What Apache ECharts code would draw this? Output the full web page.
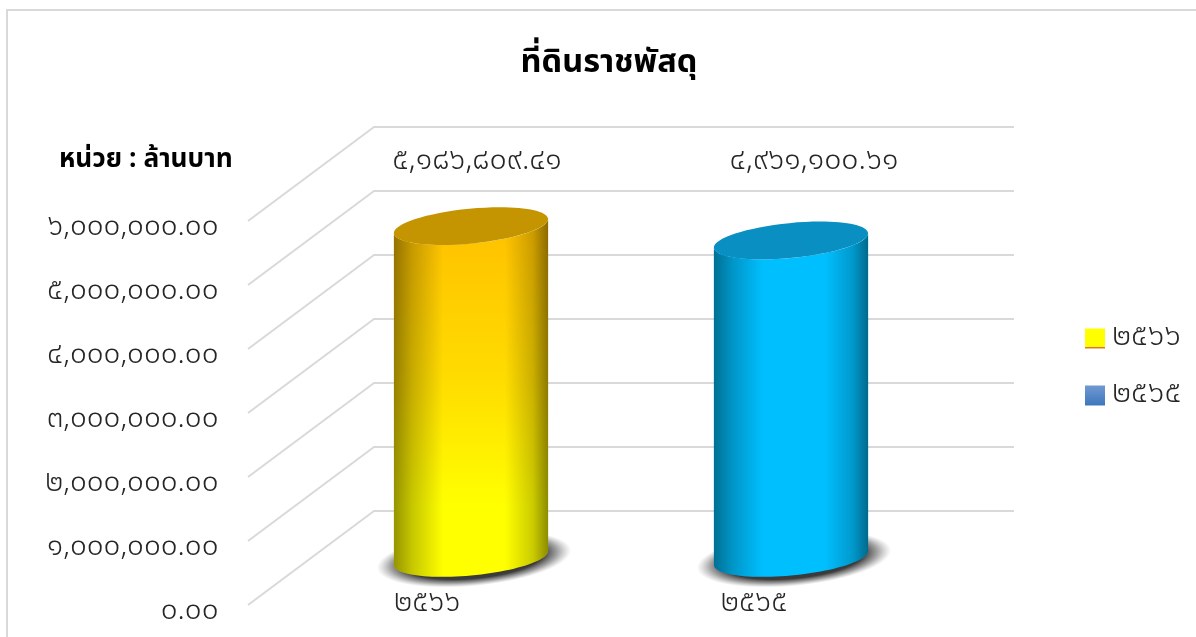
<!DOCTYPE html>
<html>
<head>
<meta charset="utf-8">
<title>ที่ดินราชพัสดุ</title>
<style>html,body{margin:0;padding:0;background:#fff;overflow:hidden}#chart{width:1196px;height:637px}</style>
<script src="https://cdn.jsdelivr.net/npm/echarts@6/dist/echarts.min.js"></script>
</head>
<body>
<div id="chart"></div>
<script>
// Land value by fiscal year (Buddhist era), in the units stated on the chart
const categories = ['๒๕๖๖', '๒๕๖๕'];
const values = [5186809.41, 4961100.61];
const yTicks = [0, 1000000, 2000000, 3000000, 4000000, 5000000, 6000000];

const FONT = '"Noto Sans Thai", "Noto Sans", "Open Sans", "DejaVu Sans", sans-serif';
const DEPTH_X = 63, DEPTH_Y = 47;          // half depth of the drawn floor
const GRID_COLOR = '#d9d9d9';
const INK = '#262626';

const THAI = '๐๑๒๓๔๕๖๗๘๙';
const toThai = s => String(s).replace(/[0-9]/g, d => THAI[+d]);
const money = v => toThai(v.toLocaleString('en-US', {minimumFractionDigits: 2, maximumFractionDigits: 2}));

const palettes = [
  {
    body: [[0, '#FFC000'], [0.45, '#FFDC00'], [0.8, '#FFFF00'], [1, '#FFFF00']],
    cap: '#C49500',
    labelDx: 6
  },
  {
    body: [[0, '#00BFFF'], [1, '#00BFFF']],
    cap: '#0A8FC2',
    labelDx: 23
  }
];

const stops = a => a.map(([offset, color]) => ({offset, color}));

// Outline of the cylinder's side: a tilted ellipse rim swept between the two levels
function sidePath(cx, yTop, yBase, a, b, tilt) {
  const pts = [];
  const rim = (t, cy) => {
    const ex = a * Math.cos(t), ey = b * Math.sin(t);
    return [cx + ex * Math.cos(tilt) - ey * Math.sin(tilt),
            cy + ex * Math.sin(tilt) + ey * Math.cos(tilt)];
  };
  const t0 = Math.atan2(-b * Math.sin(tilt), a * Math.cos(tilt));
  const N = 48;
  for (let i = 0; i <= N; i++) pts.push(rim(t0 + Math.PI * i / N, yBase));
  for (let i = N; i >= 0; i--) pts.push(rim(t0 + Math.PI * i / N, yTop));
  return pts;
}

function renderCylinder(idx) {
  return function (params, api) {
    const cat = api.value(0), val = api.value(1);
    const [cx, yTop] = api.coord([cat, val]);
    const [, yBase] = api.coord([cat, 0]);
    const band = api.size([1, 0])[0];
    const a = band * 0.242, b = a * 0.225;
    const tilt = -5.5 * Math.PI / 180;
    const pal = palettes[idx];
    const points = sidePath(cx, yTop, yBase, a, b, tilt);
    const top = api.coord([cat, yTicks[yTicks.length - 1]])[1];
    const shadowR = b * 1.55;
    return {
      type: 'group',
      children: [
        { // soft floor shadow: a faded disc stretched to an ellipse
          type: 'circle',
          shape: {cx: 0, cy: 0, r: shadowR},
          x: cx + 3, y: yBase + 1, rotation: -tilt,
          scaleX: (a * 1.26) / shadowR, scaleY: 1,
          style: {fill: {type: 'radial', x: 0.5, y: 0.5, r: 0.5, colorStops: [
            {offset: 0, color: 'rgba(45,45,45,1)'},
            {offset: 0.72, color: 'rgba(60,60,60,1)'},
            {offset: 0.86, color: 'rgba(90,90,90,0.55)'},
            {offset: 1, color: 'rgba(130,130,130,0)'}
          ]}}
        },
        {
          type: 'polygon', shape: {points},
          style: {fill: {type: 'linear', x: 0, y: 0, x2: 0, y2: 1, colorStops: stops(pal.body)}}
        },
        { // edge shading across the curved side
          type: 'polygon', shape: {points},
          style: {fill: {type: 'linear', x: 0, y: 0, x2: 1, y2: 0, colorStops: [
            {offset: 0, color: 'rgba(0,0,0,0.42)'},
            {offset: 0.12, color: 'rgba(0,0,0,0.22)'},
            {offset: 0.32, color: 'rgba(0,0,0,0)'},
            {offset: 0.72, color: 'rgba(0,0,0,0)'},
            {offset: 0.9, color: 'rgba(0,0,0,0.2)'},
            {offset: 1, color: 'rgba(0,0,0,0.45)'}
          ]}}
        },
        {
          type: 'ellipse',
          shape: {cx: 0, cy: 0, rx: a, ry: b},
          x: cx, y: yTop, rotation: -tilt,
          style: {fill: pal.cap}
        },
        {
          type: 'text',
          x: cx + pal.labelDx, y: top - 11,
          style: {text: money(val), fill: INK, font: '300 30.4px ' + FONT, align: 'center', verticalAlign: 'middle'}
        }
      ]
    };
  };
}

// Grid lines: front edge, across the floor depth, then along the back wall
function renderWall(params, api) {
  const [cx, y] = api.coord([0, api.value(0)]);
  const band = api.size([1, 0])[0];
  const left = cx - band / 2;
  const right = left + band * categories.length;
  return {
    type: 'polyline',
    shape: {points: [
      [left - DEPTH_X, y + DEPTH_Y],
      [left + DEPTH_X, y - DEPTH_Y],
      [right + DEPTH_X, y - DEPTH_Y]
    ]},
    style: {stroke: GRID_COLOR, lineWidth: 2, fill: null, lineJoin: 'round'}
  };
}

const chart = echarts.init(document.getElementById('chart'), null, {renderer: 'canvas'});
chart.setOption({
  animation: false,
  backgroundColor: '#fff',
  title: [
    {text: 'ที่ดินราชพัสดุ', left: 604, top: 60, textAlign: 'center', textVerticalAlign: 'middle',
     textStyle: {fontFamily: FONT, fontSize: 32.5, fontWeight: 'bold', color: '#000'}},
    {text: 'หน่วย : ล้านบาท', left: 54, top: 157, textVerticalAlign: 'middle',
     textStyle: {fontFamily: FONT, fontSize: 26.3, fontWeight: 'bold', color: '#000'}}
  ],
  graphic: [{
    type: 'rect', z: -1,
    shape: {x: 7, y: 10, width: 1400, height: 800},
    style: {fill: null, stroke: '#d9d9d9', lineWidth: 2}
  }],
  legend: {
    orient: 'vertical', left: 1080, top: 318, itemWidth: 20, itemHeight: 20, itemGap: 26,
    textStyle: {fontFamily: FONT, fontSize: 31, fontWeight: 300, color: INK, lineHeight: 20, padding: [8, 0, 0, 2]},
    data: [
      {name: categories[0], icon: 'rect', itemStyle: {color: {type: 'linear', x: 0, y: 0, x2: 0, y2: 1, colorStops: [
        {offset: 0, color: '#FFFF00'}, {offset: 0.94, color: '#FFFF00'}, {offset: 0.95, color: '#E2762B'}, {offset: 1, color: '#E2762B'}]}}},
      {name: categories[1], icon: 'rect', itemStyle: {color: {type: 'linear', x: 0, y: 0, x2: 0, y2: 1, colorStops: [
        {offset: 0, color: '#7199D2'}, {offset: 1, color: '#3E76BC'}]}}}
    ]
  },
  grid: [
    // plane through the cylinders' centres
    {left: 311, top: 174, width: 640, height: 384},
    // front plane, carrying the tick labels
    {left: 263.5, top: 229, width: 654, height: 384}
  ],
  xAxis: [
    {gridIndex: 0, type: 'category', data: categories, show: false},
    {gridIndex: 1, type: 'category', data: categories,
     axisLine: {show: false}, axisTick: {show: false},
     axisLabel: {margin: -23, fontFamily: FONT, fontSize: 30, fontWeight: 300, color: INK}}
  ],
  yAxis: [
    {gridIndex: 0, type: 'value', min: 0, max: 6000000, interval: 1000000, show: false},
    {gridIndex: 1, type: 'value', min: 0, max: 6000000, interval: 1000000,
     axisLine: {show: false}, axisTick: {show: false}, splitLine: {show: false},
     axisLabel: {margin: 45, fontFamily: FONT, fontSize: 29.7, fontWeight: 300, color: INK, formatter: money}}
  ],
  series: [
    {type: 'custom', name: 'wall', xAxisIndex: 0, yAxisIndex: 0, z: 1, silent: true,
     renderItem: renderWall, encode: {y: 0}, data: yTicks.map(v => [v])},
    {type: 'custom', name: categories[0], xAxisIndex: 0, yAxisIndex: 0, z: 3, silent: true,
     renderItem: renderCylinder(0), data: [[0, values[0]]]},
    {type: 'custom', name: categories[1], xAxisIndex: 0, yAxisIndex: 0, z: 3, silent: true,
     renderItem: renderCylinder(1), data: [[1, values[1]]]}
  ]
});
</script>
</body>
</html>
